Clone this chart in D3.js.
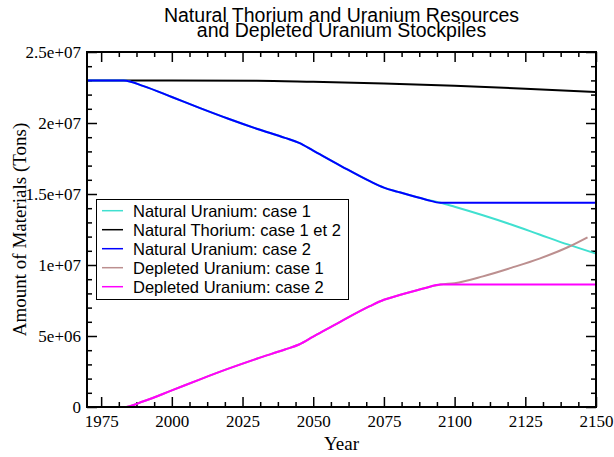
<!DOCTYPE html>
<html>
<head>
<meta charset="utf-8">
<script src="https://cdn.jsdelivr.net/npm/d3@7"></script>
<style>
  body { margin: 0; background: #fff; }
  svg { display: block; }
  .tick text { font-family: "Liberation Serif", "Times New Roman", serif; font-size: 17px; fill: #000; }
  .tick line { stroke: #000; stroke-width: 1.5; }
</style>
</head>
<body>
<div id="chart"></div>
<script>
// Data (tons)
const years = [1970, 1975, 1980, 1983, 1990, 2000, 2010, 2020, 2030, 2040, 2045, 2050, 2060,
  2070, 2075, 2080, 2090, 2095, 2100, 2110, 2120, 2130, 2140, 2150];
const natUranium1 = [23.0, 23.0, 23.0, 23.0, 22.6, 21.83, 21.05, 20.3, 19.6, 18.95, 18.6, 18.05, 16.95,
  15.9, 15.45, 15.15, 14.6, 14.38, 14.1, 13.5, 12.85, 12.15, 11.45, 10.8].map(v => v * 1e6);
const natUranium2 = [23.0, 23.0, 23.0, 23.0, 22.6, 21.83, 21.05, 20.3, 19.6, 18.95, 18.6, 18.05, 16.95,
  15.9, 15.45, 15.15, 14.6, 14.38, 14.38, 14.38, 14.38, 14.38, 14.38, 14.38].map(v => v * 1e6);
const depUranium2 = [0, 0, 0, 0, 0.4, 1.17, 1.95, 2.7, 3.4, 4.05, 4.4, 4.95, 6.05,
  7.1, 7.55, 7.85, 8.4, 8.62, 8.62, 8.62, 8.62, 8.62, 8.62, 8.62].map(v => v * 1e6);

const yearsDep1 = [1970, 1975, 1980, 1983, 1990, 2000, 2010, 2020, 2030, 2040, 2045, 2050, 2060,
  2070, 2075, 2080, 2090, 2095, 2100, 2110, 2120, 2130, 2140, 2147];
const depUranium1 = [0, 0, 0, 0, 0.4, 1.17, 1.95, 2.7, 3.4, 4.05, 4.4, 4.95, 6.05,
  7.1, 7.55, 7.85, 8.4, 8.62, 8.72, 9.2, 9.8, 10.45, 11.25, 11.95].map(v => v * 1e6);

const yearsTh = [1970, 2000, 2030, 2050, 2075, 2100, 2125, 2150];
const natThorium = [23.0, 23.0, 22.98, 22.9, 22.78, 22.63, 22.42, 22.18].map(v => v * 1e6);

const xTicks = [1975, 2000, 2025, 2050, 2075, 2100, 2125, 2150];
const yTicks = [0, 5e6, 1e7, 1.5e7, 2e7, 2.5e7];

const series = [
  { name: 'Natural Uranium: case 1', color: '#40e0d0', x: years, y: natUranium1 },
  { name: 'Natural Thorium: case 1 et 2', color: '#000000', x: yearsTh, y: natThorium },
  { name: 'Natural Uranium: case 2', color: '#0000ff', x: years, y: natUranium2 },
  { name: 'Depleted Uranium: case 1', color: '#bc8f8f', x: yearsDep1, y: depUranium1 },
  { name: 'Depleted Uranium: case 2', color: '#ff00ff', x: years, y: depUranium2 },
];

const W = 614, H = 457;
const margin = { left: 87, right: 18, top: 52, bottom: 50 };
const pw = W - margin.left - margin.right;
const ph = H - margin.top - margin.bottom;

const svg = d3.select('#chart').append('svg').attr('width', W).attr('height', H);

const x = d3.scaleLinear().domain([1970, 2150]).range([margin.left, margin.left + pw]);
const y = d3.scaleLinear().domain([0, 2.5e7]).range([margin.top + ph, margin.top]);

// minor tick positions
const xMinor = d3.range(0, 29).map(i => 1975 + i * 6.25).filter(v => v <= 2150 && (v - 1975) % 25 !== 0);
const yMinor = d3.range(0, 26).map(i => i * 1e6).filter(v => v % 5e6 !== 0);

const fmtY = d => d === 0 ? '0' : d.toExponential().replace(/e([+-])(\d)$/, 'e$10$2');

function axisGroup(axis, tx, ty) {
  const g = svg.append('g').attr('transform', `translate(${tx},${ty})`).call(axis);
  g.select('.domain').remove();
  return g;
}

// bottom
axisGroup(d3.axisBottom(x).tickValues(xTicks).tickSize(-10).tickPadding(8).tickFormat(d3.format('d')), 0, margin.top + ph);
axisGroup(d3.axisBottom(x).tickValues(xMinor).tickSize(-5).tickFormat(''), 0, margin.top + ph);
// top
axisGroup(d3.axisTop(x).tickValues(xTicks).tickSize(-10).tickFormat(''), 0, margin.top);
axisGroup(d3.axisTop(x).tickValues(xMinor).tickSize(-5).tickFormat(''), 0, margin.top);
// left
axisGroup(d3.axisLeft(y).tickValues(yTicks).tickSize(-10).tickPadding(6).tickFormat(fmtY), margin.left, 0);
axisGroup(d3.axisLeft(y).tickValues(yMinor).tickSize(-5).tickFormat(''), margin.left, 0);
// right
axisGroup(d3.axisRight(y).tickValues(yTicks).tickSize(-10).tickFormat(''), margin.left + pw, 0);
axisGroup(d3.axisRight(y).tickValues(yMinor).tickSize(-5).tickFormat(''), margin.left + pw, 0);

// curves
const line = d3.line().curve(d3.curveMonotoneX).x(d => x(d[0])).y(d => y(d[1]));
const drawOrder = [1, 0, 2, 3, 4];
drawOrder.forEach(i => {
  const s = series[i];
  svg.append('path')
    .datum(s.x.map((v, j) => [v, s.y[j]]))
    .attr('fill', 'none')
    .attr('stroke', s.color)
    .attr('stroke-width', 2)
    .attr('d', line);
});

// frame
svg.append('rect')
  .attr('x', margin.left).attr('y', margin.top)
  .attr('width', pw).attr('height', ph)
  .attr('fill', 'none').attr('stroke', '#000').attr('stroke-width', 2);

// legend
const lg = svg.append('g');
lg.append('rect')
  .attr('x', 96.5).attr('y', 199.5).attr('width', 252).attr('height', 100)
  .attr('fill', '#fff').attr('stroke', '#000').attr('stroke-width', 1);
series.forEach((s, i) => {
  const cy = 210.7 + i * 19;
  lg.append('line')
    .attr('x1', 102).attr('x2', 123).attr('y1', cy).attr('y2', cy)
    .attr('stroke', s.color).attr('stroke-width', 1.5);
  lg.append('text')
    .attr('x', 133).attr('y', cy + 6)
    .attr('font-family', '"Liberation Sans", Arial, sans-serif')
    .attr('font-size', 16.5)
    .text(s.name);
});

// titles
const title = svg.append('text')
  .attr('text-anchor', 'middle')
  .attr('font-family', '"Liberation Sans", Arial, sans-serif')
  .attr('font-size', 19.5);
title.append('tspan').attr('x', margin.left + pw / 2).attr('y', 21.5).text('Natural Thorium and Uranium Resources');
title.append('tspan').attr('x', margin.left + pw / 2).attr('y', 37).text('and Depleted Uranium Stockpiles');

svg.append('text')
  .attr('x', margin.left + pw / 2).attr('y', 450)
  .attr('text-anchor', 'middle')
  .attr('font-family', '"Liberation Serif", "Times New Roman", serif')
  .attr('font-size', 19)
  .text('Year');

svg.append('text')
  .attr('transform', `translate(26,${margin.top + ph / 2}) rotate(-90)`)
  .attr('text-anchor', 'middle')
  .attr('font-family', '"Liberation Serif", "Times New Roman", serif')
  .attr('font-size', 19)
  .text('Amount of Materials (Tons)');
</script>
</body>
</html>
